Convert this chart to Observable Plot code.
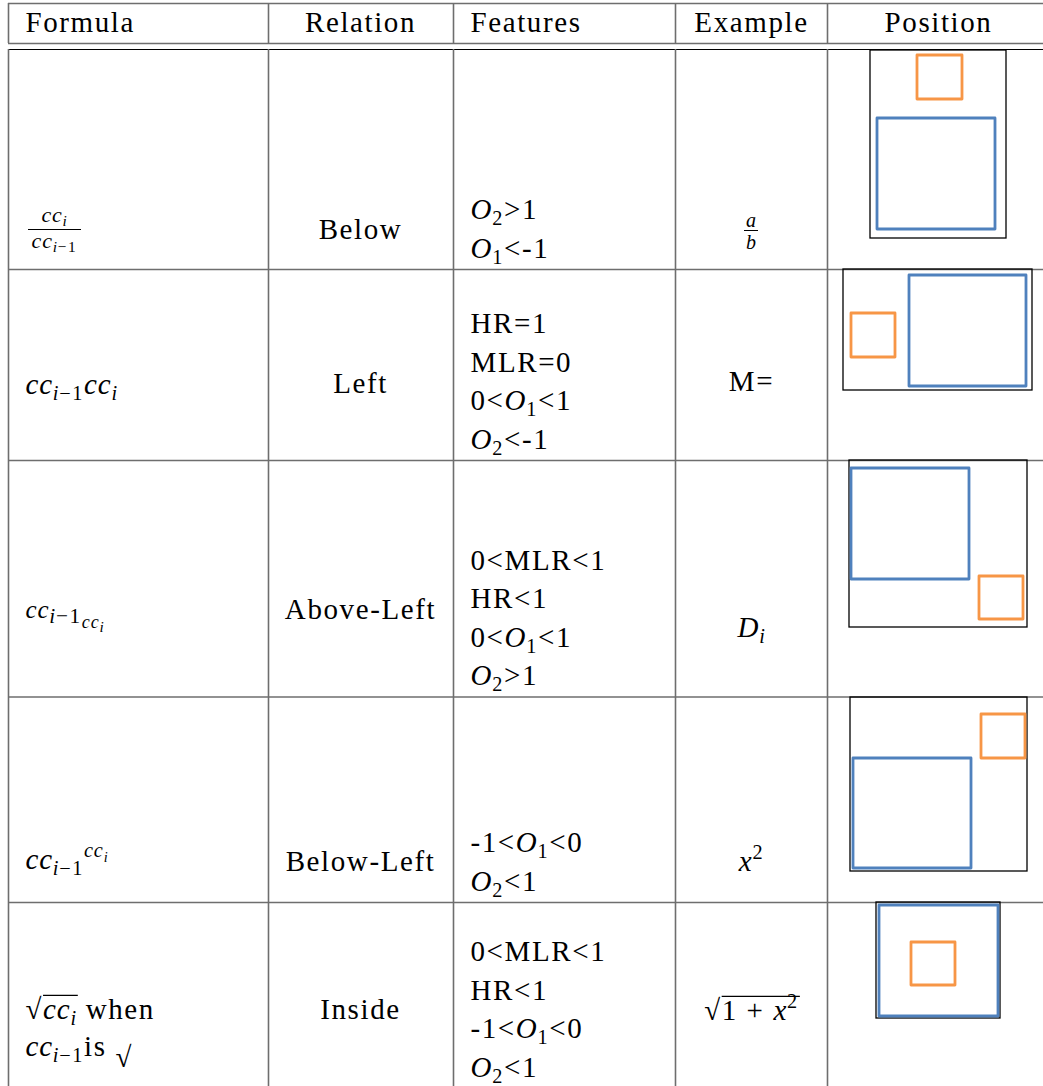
<!DOCTYPE html>
<html><head><meta charset="utf-8">
<script src="https://cdn.jsdelivr.net/npm/d3@7"></script>
<script src="https://cdn.jsdelivr.net/npm/@observablehq/plot@0.6"></script>
<style>
html,body{margin:0;padding:0;background:#fff;}
#chart svg text, #chart svg tspan{font-family:"Liberation Serif","Times New Roman","DejaVu Serif","Noto Sans",serif;letter-spacing:1.6px;fill:#000;}
</style></head><body><div id="chart"></div>
<script>
// ---------------- data ----------------
const headers = ["Formula", "Relation", "Features", "Example", "Position"];
const relations = ["Below", "Left", "Above-Left", "Below-Left", "Inside"];
// rich-text markup: $..$ italic, _{..} subscript, ^{..} superscript,
// ~{..} radical overline, ↓{..} lowered, | line break
const formulas = [
  "$cc$_{$i$}|$cc$_{$i$−1}",
  "$cc$_{$i$−1}$cc$_{$i$}",
  "$cc$_{$i$−1_{$cc$_{$i$}}}",
  "$cc$_{$i$−1}^{$cc$_{$i$}}",
  "√~{$cc$_{$i$}} when|$cc$_{$i$−1}is ↓{√}"
];
const features = [
  ["$O$_{2}>1", "$O$_{1}<-1"],
  ["HR=1", "MLR=0", "0<$O$_{1}<1", "$O$_{2}<-1"],
  ["0<MLR<1", "HR<1", "0<$O$_{1}<1", "$O$_{2}>1"],
  ["-1<$O$_{1}<0", "$O$_{2}<1"],
  ["0<MLR<1", "HR<1", "-1<$O$_{1}<0", "$O$_{2}<1"]
];
const examples = [
  "$a$|$b$",
  "M=",
  "$D$_{$i$}",
  "$x$^{2}",
  "√~{1 + $x$^{2}}"
];
// position diagrams: outer frame, blue (previous) box, orange (current) box
const frames = [
  {x1: 870, x2: 1006, y1: 50, y2: 238},
  {x1: 843, x2: 1032, y1: 269, y2: 390},
  {x1: 849, x2: 1027, y1: 460, y2: 627},
  {x1: 850, x2: 1027, y1: 697, y2: 871},
  {x1: 876, x2: 1000, y1: 902, y2: 1018}
];
const blueBoxes = [
  {x1: 877, x2: 995, y1: 118, y2: 229},
  {x1: 909, x2: 1026, y1: 275, y2: 386},
  {x1: 851, x2: 969, y1: 468, y2: 579},
  {x1: 853, x2: 971, y1: 758, y2: 868},
  {x1: 879, x2: 998, y1: 905, y2: 1016}
];
const orangeBoxes = [
  {x1: 917, x2: 962, y1: 55, y2: 99},
  {x1: 851, x2: 895, y1: 313, y2: 357},
  {x1: 979, x2: 1023, y1: 576, y2: 619},
  {x1: 981, x2: 1025, y1: 714, y2: 758},
  {x1: 911, x2: 955, y1: 942, y2: 985}
];

// ---------------- layout ----------------
const W = 1043, H = 1086;
const mainSize = 29;
const fontStack = '"Liberation Serif", "Times New Roman", "DejaVu Serif", "Noto Sans", serif';
const colEdges = [8, 268, 453, 675, 827];
const headerTop = 3, headerBottom = 43, bodyTop = 49;
const rowEdges = [49, 269, 460, 696.5, 902, 1088];
const headerX = [25, 360, 470, 751, 938];
const headerAnchor = ["start", "middle", "start", "middle", "middle"];
const headerBaseline = 31;
const relationX = 360;
const relationY = [238, 392, 618, 870, 1018];
const featuresX = 470, featuresPad = 12, lineStep = 38.5;
const formulaLayout = [
  {x: 54, anchor: "middle", y: 221, gap: 26, size: 22, sub: 0.7, bar: {y: 229, x1: 28, x2: 81}},
  {x: 25, anchor: "start", y: 393, size: 29, sub: 0.7},
  {x: 25, anchor: "start", y: 617, size: 25, sub: 0.85},
  {x: 25, anchor: "start", y: 868, size: 29, sub: 0.7},
  {x: 25, anchor: "start", y: 1018, gap: 37, size: 29, sub: 0.7}
];
const exampleX = 751;
const exampleLayout = [
  {y: 226, gap: 22, size: 20, bar: {y: 230, x1: 744, x2: 758}},
  {y: 390, size: 29},
  {y: 636, size: 29},
  {y: 870, size: 29},
  {y: 1019, size: 29}
];

// ---------------- build mark tables ----------------
const startTexts = [], middleTexts = [], bars = [];
headers.forEach((h, c) => (headerAnchor[c] === "start" ? startTexts : middleTexts)
  .push({x: headerX[c], y: headerBaseline, t: h, size: mainSize}));
relations.forEach((r, i) => middleTexts.push({x: relationX, y: relationY[i], t: r, size: mainSize}));
features.forEach((lines, i) => lines.forEach((l, k) => startTexts.push({
  x: featuresX, y: rowEdges[i + 1] - featuresPad - (lines.length - 1 - k) * lineStep, t: l, size: mainSize})));
formulas.forEach((f, i) => {
  const L = formulaLayout[i];
  (L.anchor === "middle" ? middleTexts : startTexts).push({x: L.x, y: L.y, t: f, size: L.size, gap: L.gap, sub: L.sub});
  if (L.bar) bars.push(L.bar);
});
examples.forEach((e, i) => {
  const L = exampleLayout[i];
  middleTexts.push({x: exampleX, y: L.y, t: e, size: L.size, gap: L.gap});
  if (L.bar) bars.push(L.bar);
});
const hLines = [
  {y: headerTop, c: "#6e6e6e", w: 1.6},
  {y: headerBottom, c: "#6e6e6e", w: 1.6},
  {y: bodyTop, c: "#000", w: 1.1},
  ...rowEdges.slice(1, -1).map(y => ({y, c: "#6e6e6e", w: 1.6}))
];

function draw(overlines) {
  return Plot.plot({
    width: W, height: H, margin: 0,
    style: {fontFamily: fontStack, background: "#fff"},
    x: {domain: [0, W], range: [0, W], axis: null},
    y: {domain: [0, H], range: [0, H], axis: null},
    marks: [
      Plot.ruleY(hLines, {y: "y", x1: colEdges[0], x2: W, stroke: d => d.c, strokeWidth: d => d.w}),
      Plot.ruleX(colEdges, {x: d => d, y1: headerTop, y2: headerBottom, stroke: "#6e6e6e", strokeWidth: 1.6}),
      Plot.ruleX(colEdges, {x: d => d, y1: bodyTop, y2: H, stroke: "#6e6e6e", strokeWidth: 1.6}),
      Plot.rect(frames, {x1: "x1", x2: "x2", y1: "y1", y2: "y2", fill: "none", stroke: "#000", strokeWidth: 1.3}),
      Plot.rect(blueBoxes, {x1: "x1", x2: "x2", y1: "y1", y2: "y2", fill: "none", stroke: "#4f81bd", strokeWidth: 2.8, strokeLinejoin: "round"}),
      Plot.rect(orangeBoxes, {x1: "x1", x2: "x2", y1: "y1", y2: "y2", fill: "none", stroke: "#f79646", strokeWidth: 2.8, strokeLinejoin: "round"}),
      Plot.ruleY(bars, {y: "y", x1: "x1", x2: "x2", stroke: "#000", strokeWidth: 1}),
      Plot.ruleY(overlines, {y: "y", x1: "x1", x2: "x2", stroke: "#000", strokeWidth: 1.2}),
      Plot.text(startTexts, {x: "x", y: "y", text: "t", fontSize: d => d.size, fontFamily: fontStack, textAnchor: "start", lineAnchor: "bottom", fill: "#000"}),
      Plot.text(middleTexts, {x: "x", y: "y", text: "t", fontSize: d => d.size, fontFamily: fontStack, textAnchor: "middle", lineAnchor: "bottom", fill: "#000"})
    ]
  });
}

// ---------------- rich text (sub/superscripts, italics, line breaks) ----------------
const NS = "http://www.w3.org/2000/svg";
function richify(t, d, found) {
  const str = d.t;
  const base = d.size;
  const subK = d.sub || 0.7;
  t.textContent = "";
  let i = 0, italic = false, cur = 0, line = 0;
  function group(el, size, offset) {
    let buf = "";
    const flush = () => {
      if (!buf) return;
      const ts = document.createElementNS(NS, "tspan");
      ts.setAttribute("font-size", size);
      if (italic) { ts.setAttribute("font-style", "italic"); ts.style.letterSpacing = "0.8px"; }
      const dy = offset - cur;
      if (dy) ts.setAttribute("dy", dy);
      cur = offset;
      ts.textContent = buf;
      el.appendChild(ts);
      buf = "";
    };
    while (i < str.length) {
      const c = str[i];
      if (c === "$") { flush(); italic = !italic; i++; }
      else if (c === "|") {
        flush(); i++; line++;
        const ts = document.createElementNS(NS, "tspan");
        ts.setAttribute("x", 0);
        ts.setAttribute("dy", line * d.gap - cur);
        cur = line * d.gap; offset = cur;
        el.appendChild(ts);
        el = ts;
      }
      else if (("_^~↓".includes(c)) && str[i + 1] === "{") {
        flush(); i += 2;
        if (c === "~") {
          const g = document.createElementNS(NS, "tspan");
          el.appendChild(g);
          found.push({el: g, t, baseline: d.y + offset, size});
          group(g, size, offset);
        } else if (c === "↓") {
          group(el, size, offset + 0.4 * size);
        } else {
          group(el, size * subK, offset + (c === "_" ? 0.22 * size : -0.38 * size));
        }
      } else if (c === "}") { flush(); i++; return; }
      else { buf += c; i++; }
    }
    flush();
  }
  group(t, base, 0);
}
function enrich(svg) {
  const found = [];
  const groups = svg.querySelectorAll('g[aria-label="text"]');
  [startTexts, middleTexts].forEach((data, m) => {
    groups[m].querySelectorAll(":scope > text").forEach((t, j) => richify(t, data[j], found));
  });
  return found;
}

const host = document.getElementById("chart");
// first pass: lay out text to find where radical overlines go
let svg = draw([]);
host.append(svg);
const found = enrich(svg);
const origin = svg.getBoundingClientRect();
const overlines = found.map(f => {
  const r = f.el.getBoundingClientRect();
  return {x1: r.left - origin.left, x2: r.right - origin.left + 1, y: f.baseline - 0.8 * f.size};
});
svg.remove();
// final pass
svg = draw(overlines);
host.append(svg);
enrich(svg);
</script></body></html>
